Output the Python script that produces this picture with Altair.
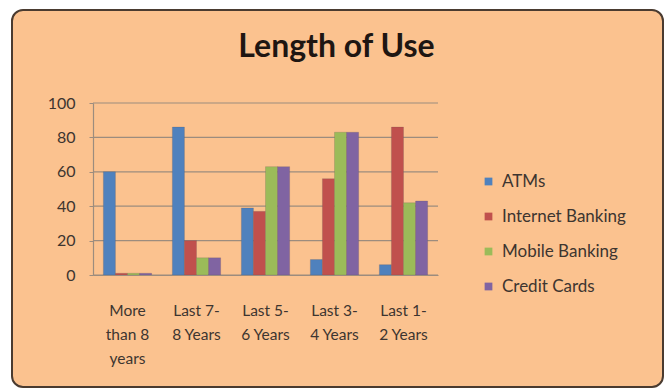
import altair as alt
import pandas as pd

# Survey: length of use of each banking channel
periods = [
    "More\nthan 8\nyears",
    "Last 7-\n8 Years",
    "Last 5-\n6 Years",
    "Last 3-\n4 Years",
    "Last 1-\n2 Years",
]
channels = ["ATMs", "Internet Banking", "Mobile Banking", "Credit Cards"]
atms = [60, 86, 39, 9, 6]
internet_banking = [1, 20, 37, 56, 86]
mobile_banking = [1, 10, 63, 83, 42]
credit_cards = [1, 10, 63, 83, 43]
colors = ["#4F81BD", "#C0504D", "#9BBB59", "#8064A2"]
y_ticks = [0, 20, 40, 60, 80, 100]

series = [atms, internet_banking, mobile_banking, credit_cards]
rows = []
for name, vals in zip(channels, series):
    for p, v in zip(periods, vals):
        rows.append({"period": p, "channel": name, "value": v})
df = pd.DataFrame(rows)

FONT = "Lato"
TEXT = "#3d3530"
BG = "#FBC28F"
LINE = "#9c8c7e"

W, H = 345, 172
LEFT, TOP = 93, 103

y_scale = alt.Scale(domain=[0, 100])
y_axis = alt.Axis(
    values=y_ticks, grid=False, title=None, labelFont=FONT, labelFontSize=16,
    labelColor=TEXT, labelPadding=14, tickSize=4, tickColor=LINE,
    labelOverlap=False, labelFlush=False,
    domainColor=LINE, domainWidth=1.2, zindex=1,
)

frame = alt.Chart(alt.Data(values=[{}])).mark_rect(
    fill=BG, stroke="#4a3b30", strokeWidth=2, cornerRadius=11
).encode(
    x=alt.value(12 - LEFT), x2=alt.value(663 - LEFT),
    y=alt.value(10 - TOP), y2=alt.value(387 - TOP),
)

grid = alt.Chart(pd.DataFrame({"tick": y_ticks})).mark_rule(
    color=LINE, strokeWidth=1.2
).encode(
    y=alt.Y("tick:Q", scale=y_scale, axis=y_axis, title=None),
    x=alt.value(0), x2=alt.value(W),
)

bars = alt.Chart(df).mark_bar(strokeWidth=0.6, stroke="#5a5050", strokeOpacity=0.35).encode(
    x=alt.X(
        "period:N", sort=periods, title=None,
        scale=alt.Scale(paddingInner=0.3, paddingOuter=0.15),
        axis=alt.Axis(
            labelExpr="split(datum.label, '\\n')", labelAngle=0,
            labelFont=FONT, labelFontSize=15.5, labelColor=TEXT,
            labelLineHeight=24, labelPadding=28, ticks=False,
            domainColor=LINE, domainWidth=1.2, zindex=1,
        ),
    ),
    xOffset=alt.XOffset("channel:N", sort=channels, scale=alt.Scale(paddingInner=0, paddingOuter=0)),
    y=alt.Y("value:Q", title=None, scale=y_scale, axis=y_axis),
    color=alt.Color(
        "channel:N", sort=channels,
        scale=alt.Scale(domain=channels, range=colors),
        legend=alt.Legend(
            title=None, orient="none", legendX=387, legendY=70,
            symbolType="square", symbolSize=60, symbolStrokeWidth=0,
            labelFont=FONT, labelFontSize=17, labelColor=TEXT,
            rowPadding=17, labelOffset=5, padding=0, zindex=1,
        ),
    ),
)

chart = alt.layer(frame, grid, bars).properties(
    width=W, height=H,
    autosize=alt.AutoSizeParams(type="none"),
    padding={"left": LEFT, "top": TOP, "right": 665 - LEFT - W, "bottom": 389 - TOP - H},
    background="white",
    title=alt.TitleParams(
        "Length of Use", font=FONT, fontSize=32, fontWeight="bold",
        color="#1e1612", anchor="middle", frame="group", dx=71, offset=0, dy=55, zindex=1,
    ),
).configure_view(stroke=None)

chart.save("out.html", embed_options={"renderer": "svg", "actions": False})
